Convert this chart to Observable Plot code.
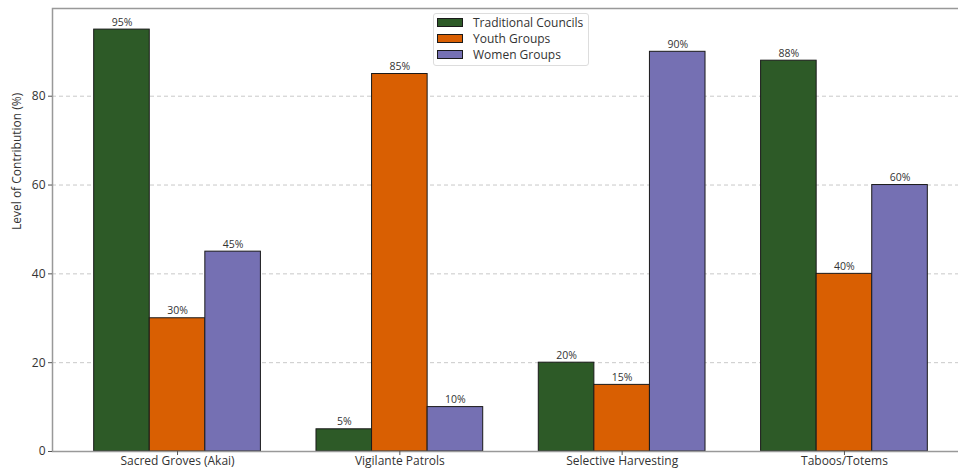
<!DOCTYPE html>
<html>
<head>
<meta charset="utf-8">
<script src="https://cdn.jsdelivr.net/npm/d3@7"></script>
<script src="https://cdn.jsdelivr.net/npm/@observablehq/plot@0.6"></script>
<style>
  html, body { margin: 0; padding: 0; background: #fff; overflow: hidden; }
  #wrap { position: relative; width: 958px; height: 470px; overflow: hidden; font-family: "Open Sans", sans-serif; }
  #legend {
    position: absolute; left: 433px; top: 13px; width: 156px; height: 53px;
    border: 1px solid #ddd; border-radius: 3px; background: rgba(255,255,255,0.85);
    box-sizing: border-box; padding: 0 0 0 3px; font-size: 12px; color: #333;
  }
  #legend .row { display: flex; align-items: center; height: 16px; }
  #legend .sw { width: 24px; height: 7px; border: 1px solid #1a1a1a; margin-right: 10px; }
</style>
</head>
<body>
<div id="wrap"><div id="legend"></div></div>
<script>
// Community contributions to conservation, by practice
const categories = ["Sacred Groves (Akai)", "Vigilante Patrols", "Selective Harvesting", "Taboos/Totems"];
const groups = ["Traditional Councils", "Youth Groups", "Women Groups"];
const traditionalCouncils = [95, 5, 20, 88];
const youthGroups = [30, 85, 15, 40];
const womenGroups = [45, 10, 90, 60];
const colors = ["#2d5a27", "#d95f02", "#7570b3"];
const yTicks = [0, 20, 40, 60, 80];

const series = [traditionalCouncils, youthGroups, womenGroups];
const barWidth = 0.25;

// one row per bar: category index i, series j, offset inside the group
const rows = [];
categories.forEach((cat, i) => {
  series.forEach((vals, j) => {
    const center = i + (j - 1) * barWidth;
    rows.push({cat, group: groups[j], value: vals[i], center,
      x1: center - barWidth / 2, x2: center + barWidth / 2});
  });
});

const font = "Open Sans, sans-serif";

const chart = Plot.plot({
  width: 958,
  height: 470,
  marginTop: 8,
  marginBottom: 19,
  marginLeft: 52,
  marginRight: -11,
  style: {fontFamily: font, background: "white", color: "#333", overflow: "hidden"},
  x: {domain: [-0.5625, 3.5625]},
  y: {domain: [0, 99.75]},
  color: {domain: groups, range: colors},
  marks: [
    Plot.gridY(yTicks, {stroke: "#bbb", strokeOpacity: 1, strokeDasharray: "4,3", strokeWidth: 0.8}),
    Plot.rectY(rows, {x1: "x1", x2: "x2", y1: 0, y2: "value", fill: "group",
      stroke: "#1a1a1a", strokeWidth: 1}),
    Plot.text(rows, {x: "center", y: "value", text: d => d.value + "%",
      lineAnchor: "bottom", dy: -4, fontSize: 10.5, fill: "#333"}),
    Plot.frame({stroke: "#999", strokeWidth: 1.5}),
    Plot.axisY(yTicks, {tickSize: 4, tickPadding: 3, fontSize: 12, label: null, stroke: "#555"}),
    Plot.axisX([0, 1, 2, 3], {tickFormat: i => categories[i], tickSize: 4, tickPadding: 1,
      fontSize: 12, label: null, stroke: "#555"}),
    Plot.text(["Level of Contribution (%)"], {frameAnchor: "left", text: d => d, rotate: -90,
      dx: -35, fontSize: 12, fill: "#333"})
  ]
});

const wrap = document.getElementById("wrap");
wrap.insertBefore(chart, wrap.firstChild);

const legend = document.getElementById("legend");
groups.forEach((g, j) => {
  const row = document.createElement("div");
  row.className = "row";
  row.innerHTML = `<span class="sw" style="background:${colors[j]}"></span><span>${g}</span>`;
  legend.appendChild(row);
});
</script>
</body>
</html>
